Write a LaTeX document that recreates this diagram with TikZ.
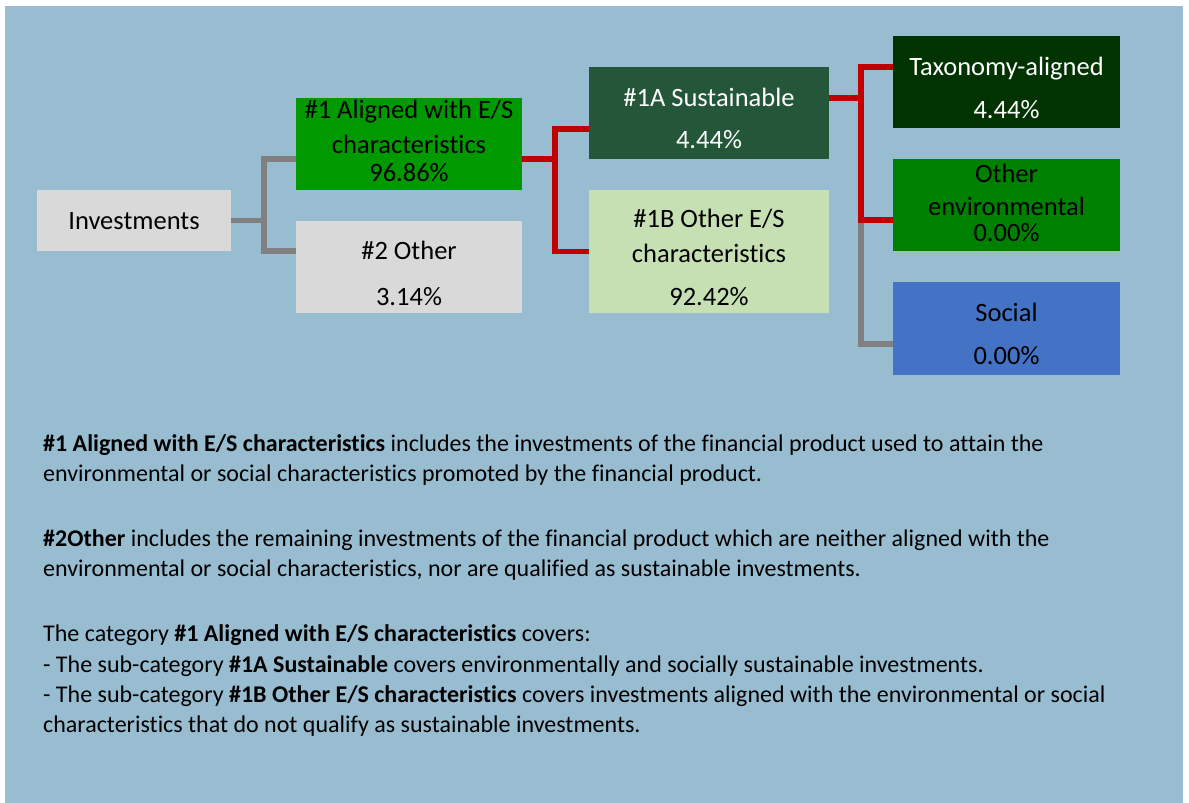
\documentclass[tikz,border=0pt]{standalone}
\usepackage{fontspec}
\setmainfont{Carlito}[Ligatures=NoCommon]
\usetikzlibrary{calc}
\definecolor{bgblue}{HTML}{98BCD0}
\definecolor{lgray}{HTML}{D9D9D9}
\definecolor{agreen}{HTML}{009900}
\definecolor{sgreen}{HTML}{245639}
\definecolor{bgreen}{HTML}{C6E0B4}
\definecolor{tgreen}{HTML}{003300}
\definecolor{egreen}{HTML}{008000}
\definecolor{sblue}{HTML}{4472C4}
\definecolor{cgray}{HTML}{808080}
\definecolor{cred}{HTML}{C00000}
\begin{document}
\begin{tikzpicture}[x=1pt,y=-1pt,
  box/.style={draw=none,inner sep=0pt,rectangle},
  tx/.style={anchor=base,inner sep=0pt,font=\fontsize{26.5}{30}\selectfont},
  bt/.style={anchor=base west,inner sep=0pt,font=\fontsize{24}{30}\selectfont},
  gl/.style={draw=cgray,line width=5.5pt,line join=miter},
  rl/.style={draw=cred,line width=5.5pt,line join=miter}]
\useasboundingbox (0,0) rectangle (1189,803);
\fill[white] (0,0) rectangle (1189,803);
\fill[bgblue] (5,6) rectangle (1183,803);

% boxes
\node[box,fill=lgray,minimum width=194pt,minimum height=61pt] (inv) at (134,220.5) {};
\node[box,fill=agreen,minimum width=226pt,minimum height=92pt] (a1) at (409,144) {};
\node[box,fill=lgray,minimum width=226pt,minimum height=92pt] (o2) at (409,267) {};
\node[box,fill=sgreen,minimum width=240pt,minimum height=92pt] (s1a) at (709,113) {};
\node[box,fill=bgreen,minimum width=240pt,minimum height=123pt] (b1b) at (709,251.5) {};
\node[box,fill=tgreen,minimum width=227pt,minimum height=92pt] (tax) at (1006.5,82) {};
\node[box,fill=egreen,minimum width=227pt,minimum height=92pt] (oenv) at (1006.5,205) {};
\node[box,fill=sblue,minimum width=227pt,minimum height=93pt] (soc) at (1006.5,328.5) {};

% box texts
\node[tx] (tinv) at (134,229) {Investments};
\node[tx] (ta1a) at (409,118) {\#1 Aligned with E/S};
\node[tx] (ta1b) at (409,153) {characteristics};
\node[tx] (ta1c) at (409,181) {96.86\%};
\node[tx] (to2a) at (409,259) {\#2 Other};
\node[tx] (to2b) at (409,305) {3.14\%};
\node[tx,text=white] (ts1a) at (709,106) {\#1A Sustainable};
\node[tx,text=white] (ts1b) at (709,148) {4.44\%};
\node[tx] (tb1a) at (709,227) {\#1B Other E/S};
\node[tx] (tb1b) at (709,262) {characteristics};
\node[tx] (tb1c) at (709,305) {92.42\%};
\node[tx,text=white] (ttaxa) at (1006.5,75) {Taxonomy-aligned};
\node[tx,text=white] (ttaxb) at (1006.5,118) {4.44\%};
\node[tx] (toea) at (1006.5,182) {Other};
\node[tx] (toeb) at (1006.5,215) {environmental};
\node[tx] (toec) at (1006.5,241) {0.00\%};
\node[tx] (tsoa) at (1006.5,321) {Social};
\node[tx] (tsob) at (1006.5,364) {0.00\%};

% junctions
\coordinate (ja) at (264,220.5);
\coordinate (jb) at (555,159);
\coordinate (jc) at (861,98);
\coordinate (jd) at (861,220);

% connectors
\draw[gl] (inv.east) -- (ja);
\draw[gl] ([yshift=-15pt]a1.west) -| (ja) |- ([yshift=16pt]o2.west);
\draw[gl] (jd) |- ([yshift=-15.5pt]soc.west);
\draw[rl] ([yshift=-15pt]a1.east) -- (jb);
\draw[rl] ([yshift=-16pt]s1a.west) -| (jb) |- (b1b.west);
\draw[rl] ([yshift=15pt]s1a.east) -- (jc);
\draw[rl] ([yshift=15pt]tax.west) -| (jc) |- ([yshift=-15pt]oenv.west);

% explanatory text
\node[bt] (l1) at (43,451) {\textbf{\#1 Aligned with E/S characteristics} includes the investments of the financial product used to attain the};
\node[bt] (l2) at (43,481) {environmental or social characteristics promoted by the financial product.};
\node[bt] (l3) at (43,546) {\textbf{\#2Other} includes the remaining investments of the financial product which are neither aligned with the};
\node[bt] (l4) at (43,576) {environmental or social characteristics, nor are qualified as sustainable investments.};
\node[bt] (l5) at (43,641) {The category \textbf{\#1 Aligned with E/S characteristics} covers:};
\node[bt] (l6) at (43,672) {- The sub-category \textbf{\#1A Sustainable} covers environmentally and socially sustainable investments.};
\node[bt] (l7) at (43,702) {- The sub-category \textbf{\#1B Other E/S characteristics} covers investments aligned with the environmental or social};
\node[bt] (l8) at (43,732) {characteristics that do not qualify as sustainable investments.};
\end{tikzpicture}
\end{document}
